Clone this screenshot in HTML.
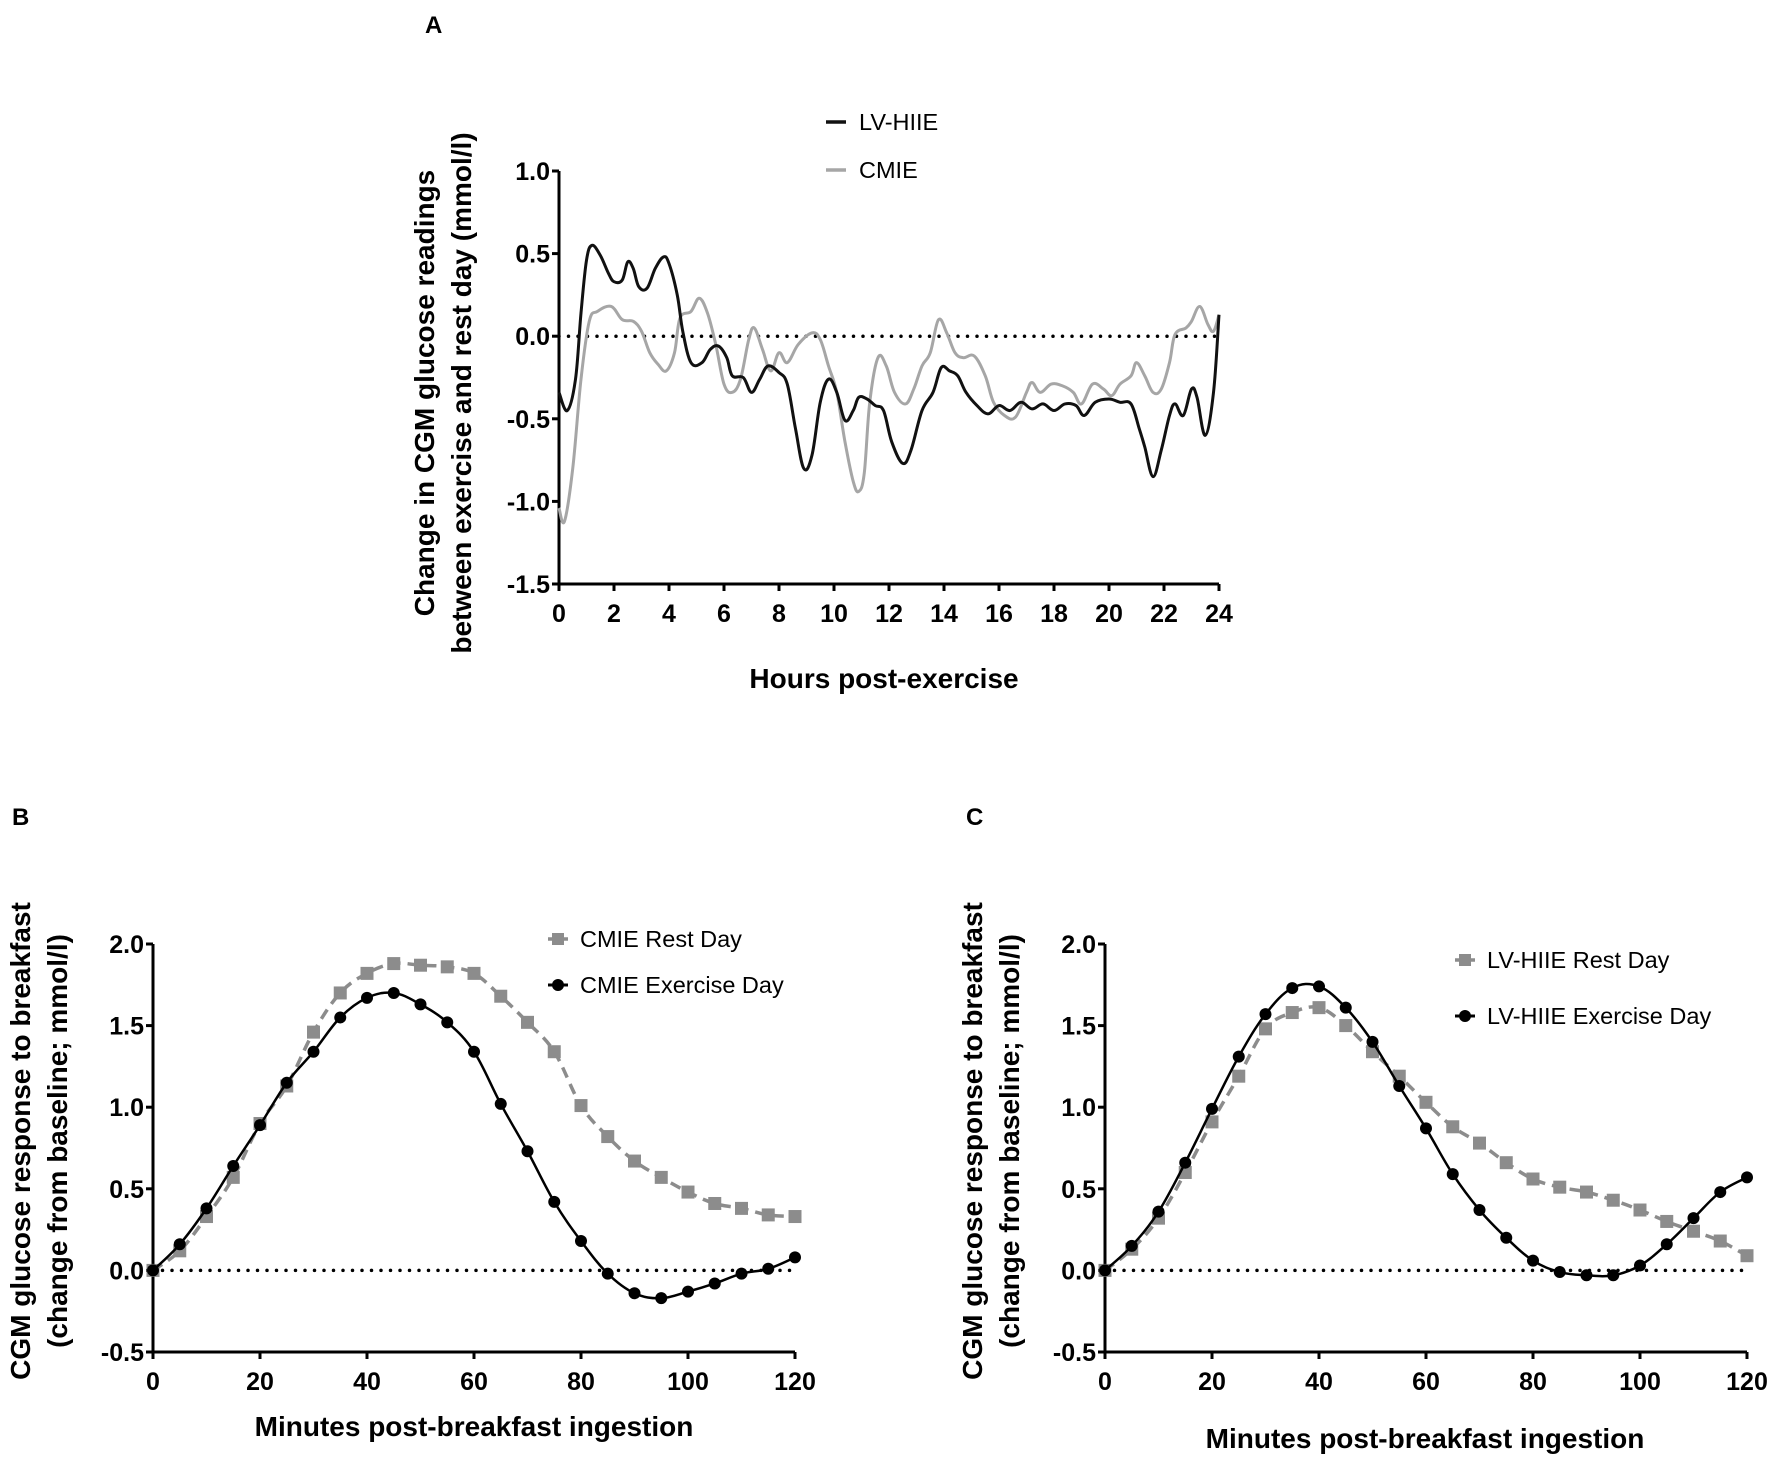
<!DOCTYPE html>
<html><head><meta charset="utf-8"><style>
body{margin:0;background:#fff}
svg{display:block}
text{font-family:"Liberation Sans",Arial,sans-serif}
.tk{font-size:25px;font-weight:bold}
.tt{font-size:28px;font-weight:bold}
.lg{font-size:23.5px}
</style></head><body>
<svg id="fig" width="1772" height="1458" viewBox="0 0 1772 1458" xmlns="http://www.w3.org/2000/svg"></svg>
<script>
// ---- Panel A data ----
const aHiieX=[0,0.3,0.6,0.8,1.0,1.2,1.5,1.8,2.0,2.3,2.5,2.7,2.9,3.2,3.5,3.8,4.0,4.3,4.5,4.8,5.2,5.5,5.8,6.1,6.3,6.7,7.0,7.3,7.6,8.0,8.3,8.6,8.9,9.2,9.5,9.8,10.1,10.4,10.7,10.9,11.2,11.5,11.8,12.1,12.5,12.8,13.2,13.6,13.9,14.2,14.5,14.8,15.2,15.6,16.0,16.4,16.8,17.2,17.6,18.0,18.4,18.8,19.1,19.5,20.0,20.4,20.8,21.1,21.3,21.6,21.9,22.2,22.4,22.7,23.0,23.2,23.5,23.8,24.0];
const aHiieY=[-0.34,-0.45,-0.26,0.14,0.46,0.55,0.49,0.38,0.33,0.34,0.45,0.41,0.30,0.29,0.41,0.48,0.44,0.25,0.03,-0.16,-0.16,-0.08,-0.06,-0.13,-0.24,-0.25,-0.34,-0.26,-0.18,-0.22,-0.29,-0.56,-0.80,-0.72,-0.40,-0.26,-0.34,-0.51,-0.45,-0.37,-0.38,-0.42,-0.45,-0.64,-0.77,-0.69,-0.45,-0.34,-0.19,-0.21,-0.24,-0.34,-0.42,-0.47,-0.42,-0.45,-0.40,-0.44,-0.41,-0.45,-0.41,-0.42,-0.48,-0.40,-0.38,-0.40,-0.41,-0.56,-0.67,-0.85,-0.69,-0.48,-0.41,-0.48,-0.32,-0.37,-0.60,-0.34,0.13];
const aCmieX=[0,0.2,0.5,0.8,1.1,1.4,1.9,2.3,2.7,3.0,3.3,3.6,3.9,4.2,4.4,4.8,5.1,5.4,5.7,6.0,6.3,6.6,6.9,7.1,7.4,7.7,8.0,8.3,8.7,9.2,9.5,9.8,10.1,10.4,10.7,10.9,11.1,11.3,11.6,11.9,12.2,12.6,12.9,13.2,13.5,13.8,14.1,14.4,14.7,15.1,15.5,15.8,16.2,16.6,17.0,17.2,17.5,17.9,18.3,18.7,19.0,19.4,19.8,20.1,20.4,20.8,21.0,21.3,21.6,21.9,22.2,22.4,22.8,23.0,23.3,23.6,23.8,24.0];
const aCmieY=[-1.04,-1.12,-0.80,-0.26,0.09,0.15,0.18,0.10,0.09,0.03,-0.10,-0.17,-0.21,-0.10,0.11,0.15,0.23,0.14,-0.05,-0.29,-0.34,-0.26,-0.02,0.05,-0.08,-0.21,-0.10,-0.16,-0.05,0.02,-0.02,-0.18,-0.34,-0.64,-0.88,-0.94,-0.83,-0.40,-0.13,-0.18,-0.34,-0.41,-0.32,-0.18,-0.10,0.10,0.02,-0.10,-0.13,-0.12,-0.24,-0.40,-0.48,-0.49,-0.34,-0.28,-0.34,-0.29,-0.30,-0.34,-0.41,-0.29,-0.32,-0.36,-0.29,-0.24,-0.16,-0.24,-0.34,-0.32,-0.16,0.01,0.05,0.09,0.18,0.07,0.03,0.13];
const aXTicks=[0,2,4,6,8,10,12,14,16,18,20,22,24];
const aYTicks=[-1.5,-1.0,-0.5,0.0,0.5,1.0];
// ---- Panels B & C data ----
const minutes=[0,5,10,15,20,25,30,35,40,45,50,55,60,65,70,75,80,85,90,95,100,105,110,115,120];
const bRest=[0,0.12,0.33,0.57,0.90,1.13,1.46,1.70,1.82,1.88,1.87,1.86,1.82,1.68,1.52,1.34,1.01,0.82,0.67,0.57,0.48,0.41,0.38,0.34,0.33];
const bEx=[0,0.16,0.38,0.64,0.89,1.15,1.34,1.55,1.67,1.70,1.63,1.52,1.34,1.02,0.73,0.42,0.18,-0.02,-0.14,-0.17,-0.13,-0.08,-0.02,0.01,0.08];
const cRest=[0,0.13,0.32,0.60,0.91,1.19,1.48,1.58,1.61,1.50,1.34,1.19,1.03,0.88,0.78,0.66,0.56,0.51,0.48,0.43,0.37,0.30,0.24,0.18,0.09];
const cEx=[0,0.15,0.36,0.66,0.99,1.31,1.57,1.73,1.74,1.61,1.40,1.13,0.87,0.59,0.37,0.20,0.06,-0.01,-0.03,-0.03,0.03,0.16,0.32,0.48,0.57];
const bcXTicks=[0,20,40,60,80,100,120];
const bcYTicks=[-0.5,0.0,0.5,1.0,1.5,2.0];

const NS="http://www.w3.org/2000/svg";
const svg=document.getElementById('fig');
function mk(tag,attrs,parent,txt){const e=document.createElementNS(NS,tag);for(const k in attrs)e.setAttribute(k,attrs[k]);if(txt!==undefined)e.textContent=txt;(parent||svg).appendChild(e);return e;}
function smooth(pts){let d=`M${pts[0][0]},${pts[0][1]}`;for(let i=0;i<pts.length-1;i++){const p0=pts[Math.max(0,i-1)],p1=pts[i],p2=pts[i+1],p3=pts[Math.min(pts.length-1,i+2)];const t=0.18;d+=` C${p1[0]+(p2[0]-p0[0])*t},${p1[1]+(p2[1]-p0[1])*t} ${p2[0]-(p3[0]-p1[0])*t},${p2[1]-(p3[1]-p1[1])*t} ${p2[0]},${p2[1]}`;}return d;}

function axes(g,x0,x1,y0,y1,xs,ys,xt,yt){
  const ax=mk('path',{d:`M${x0},${y1} L${x0},${y0} L${x1},${y0}`,fill:'none',stroke:'#000','stroke-width':3},g);
  
  
  xt.forEach(v=>{mk('line',{x1:xs(v),x2:xs(v),y1:y0,y2:y0+7,stroke:'#000','stroke-width':3},g);
    const t=mk('text',{x:xs(v),y:y0+38,'text-anchor':'middle',class:'tk'},g,String(v));
    
    });
  yt.forEach(v=>{mk('line',{x1:x0-7,x2:x0,y1:ys(v),y2:ys(v),stroke:'#000','stroke-width':3},g);
    const t=mk('text',{x:x0-9,y:ys(v)+9,'text-anchor':'end',class:'tk'},g,v.toFixed(1));
    
    });
  const z=mk('line',{x1:x0,x2:x1,y1:ys(0),y2:ys(0),stroke:'#000','stroke-width':3.5,'stroke-dasharray':'0 9.5','stroke-linecap':'round'},g);
  
  
}

// ---- Panel A ----
(function(){
  const g=mk('g',{});
  
  
  const X0=559,X1=1219,Y0=584,Y1=171;
  const xs=v=>X0+(v-0)/24*(X1-X0), ys=v=>Y0-(v+1.5)/2.5*(Y0-Y1);
  axes(g,X0,X1,Y0,Y1,xs,ys,aXTicks,aYTicks);
  const c=mk('path',{d:smooth(aCmieX.map((x,i)=>[xs(x),ys(aCmieY[i])])),fill:'none',stroke:'#a6a6a6','stroke-width':3},g);
  
  
  const h=mk('path',{d:smooth(aHiieX.map((x,i)=>[xs(x),ys(aHiieY[i])])),fill:'none',stroke:'#111','stroke-width':3},g);
  
  
  let t=mk('text',{x:425,y:33,'font-size':24,'font-weight':'bold'},g,'A');
  
  
  mk('line',{x1:826,x2:846,y1:122,y2:122,stroke:'#111','stroke-width':3.5},g);
  t=mk('text',{x:859,y:130,class:'lg'},g,'LV-HIIE');
  
  
  mk('line',{x1:826,x2:846,y1:170,y2:170,stroke:'#a6a6a6','stroke-width':3.5},g);
  t=mk('text',{x:859,y:178,class:'lg'},g,'CMIE');
  
  
  t=mk('text',{x:884,y:688,'text-anchor':'middle',class:'tt'},g,'Hours post-exercise');
  
  
  t=mk('text',{transform:'translate(434,393) rotate(-90)','text-anchor':'middle',class:'tt'},g,'Change in CGM glucose readings');
  
  
  t=mk('text',{transform:'translate(471,393) rotate(-90)','text-anchor':'middle',class:'tt'},g,'between exercise and rest day (mmol/l)');
  
  
})();

// ---- Panels B and C ----
function panel(name,label,lx,X0,X1,rest,ex,restName,exName,legX,legY1,legY2,titleX,titleY,ytX){
  const g=mk('g',{});
  
  
  const Y0=1352,Y1=944;
  const xs=v=>X0+v/120*(X1-X0), ys=v=>Y0-(v+0.5)/2.5*(Y0-Y1);
  axes(g,X0,X1,Y0,Y1,xs,ys,bcXTicks,bcYTicks);
  const rp=mk('path',{d:smooth(minutes.map((m,i)=>[xs(m),ys(rest[i])])),fill:'none',stroke:'#8c8c8c','stroke-width':3.5,'stroke-dasharray':'11 7'},g);
  
  
  minutes.forEach((m,i)=>{const r=mk('rect',{x:xs(m)-6.5,y:ys(rest[i])-6.5,width:13,height:13,fill:'#8c8c8c'},g);
    
    });
  const ep=mk('path',{d:smooth(minutes.map((m,i)=>[xs(m),ys(ex[i])])),fill:'none',stroke:'#000','stroke-width':2.5},g);
  
  
  minutes.forEach((m,i)=>{const c=mk('circle',{cx:xs(m),cy:ys(ex[i]),r:6,fill:'#000'},g);
    
    });
  let t=mk('text',{x:lx,y:825,'font-size':24,'font-weight':'bold'},g,label);
  
  
  mk('line',{x1:legX-10,x2:legX+10,y1:legY1,y2:legY1,stroke:'#8c8c8c','stroke-width':3.5},g);
  mk('rect',{x:legX-6,y:legY1-6,width:12,height:12,fill:'#8c8c8c'},g);
  t=mk('text',{x:legX+22,y:legY1+8,class:'lg'},g,restName);
  
  
  mk('line',{x1:legX-10,x2:legX+10,y1:legY2,y2:legY2,stroke:'#000','stroke-width':3},g);
  mk('circle',{cx:legX,cy:legY2,r:6,fill:'#000'},g);
  t=mk('text',{x:legX+22,y:legY2+8,class:'lg'},g,exName);
  
  
  t=mk('text',{x:titleX,y:titleY,'text-anchor':'middle',class:'tt'},g,'Minutes post-breakfast ingestion');
  
  
  t=mk('text',{transform:`translate(${ytX},1141) rotate(-90)`,'text-anchor':'middle',class:'tt'},g,'CGM glucose response to breakfast');
  
  
  t=mk('text',{transform:`translate(${ytX+37},1141) rotate(-90)`,'text-anchor':'middle',class:'tt'},g,'(change from baseline; mmol/l)');
  
  
}
panel('panel-b','B',12,153,795,bRest,bEx,'CMIE Rest Day','CMIE Exercise Day',558,939,985,474,1436,30);
panel('panel-c','C',966,1105,1747,cRest,cEx,'LV-HIIE Rest Day','LV-HIIE Exercise Day',1465,960,1016,1425,1448,982);
</script>
</body></html>
